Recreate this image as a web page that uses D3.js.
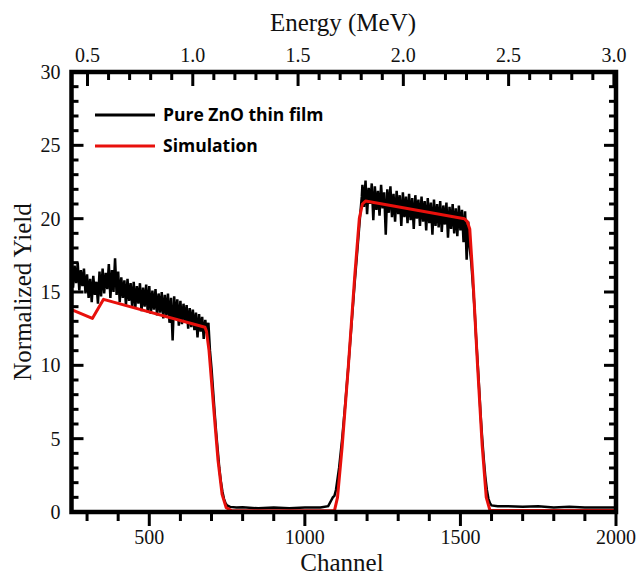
<!DOCTYPE html>
<html>
<head>
<meta charset="utf-8">
<script src="https://cdn.jsdelivr.net/npm/d3@7"></script>
<style>
  body { margin: 0; background: #fff; }
  svg { display: block; }
</style>
</head>
<body>
<div id="chart"></div>
<script>
const width = 639, height = 576;
const margin = {left: 71.5, right: 23, top: 72, bottom: 64};

// measured spectrum, noisy parts sampled every 5 channels
const filmLeftStart = 250;
const filmLeft = [
    17.2, 15.3, 16.8, 15.6, 17.0, 15.1, 16.5, 15.4, 16.6, 14.9,
    16.2, 14.6, 15.9, 14.3, 16.1, 14.8, 15.7, 14.2, 16.4, 14.7,
    16.6, 14.9, 16.3, 15.2, 16.9, 14.6, 16.5, 15.0, 17.3, 14.8,
    16.4, 14.3, 16.0, 14.6, 15.8, 14.1, 15.9, 14.4, 15.6, 14.0,
    15.7, 13.9, 15.4, 14.2, 15.6, 13.7, 15.3, 14.0, 15.5, 13.6,
    15.4, 13.5, 15.1, 13.8, 15.2, 13.4, 14.9, 13.6, 15.0, 13.2,
    14.8, 13.4, 14.9, 12.9, 14.6, 11.7, 14.7, 13.1, 14.5, 12.7,
    14.4, 12.8, 14.2, 13.0, 14.1, 12.5, 13.9, 12.6, 13.8, 12.4,
    13.6, 11.9, 13.5, 12.3, 13.3, 11.8, 13.1, 12.2, 12.9];
const filmGap = [[695, 11.0], [700, 9.8], [705, 8.3],
    [710, 6.8], [715, 5.4], [720, 4.2], [725, 3.0], [730, 2.1], [735, 1.4],
    [740, 0.9], [745, 0.6], [750, 0.45], [760, 0.35], [780, 0.3], [800, 0.32],
    [850, 0.25], [900, 0.3], [950, 0.25], [1000, 0.3], [1050, 0.3], [1075, 0.4],
    [1085, 0.8], [1090, 1.0], [1095, 1.1], [1100, 1.5], [1110, 3.0], [1120, 5.0],
    [1130, 7.4], [1140, 10.0], [1150, 12.8], [1160, 15.6], [1170, 18.2],
    [1178, 20.3], [1183, 21.5]];
const filmPeakStart = 1185;
const filmPeak = [
    22.3, 20.8, 22.6, 20.3, 22.1, 21.0, 22.4, 19.9, 22.2, 20.6,
    21.9, 20.2, 22.3, 20.7, 21.8, 18.9, 22.0, 20.4, 22.2, 20.1,
    21.7, 19.8, 21.9, 20.3, 21.6, 19.5, 21.8, 20.1, 21.5, 19.7,
    21.7, 19.9, 21.4, 19.3, 21.6, 20.0, 21.3, 19.5, 21.5, 19.8,
    21.2, 19.2, 21.4, 19.7, 21.1, 18.9, 21.3, 19.5, 21.0, 19.4,
    21.2, 19.1, 20.9, 19.6, 21.1, 18.7, 20.8, 19.3, 21.0, 19.0,
    20.7, 18.8, 20.9, 19.2, 20.6, 18.4, 20.5, 17.2, 19.8, 18.0];
const filmTail = [[1535, 17.0], [1540, 15.5], [1545, 14.0], [1550, 12.0],
    [1555, 10.3], [1560, 8.5], [1565, 6.6], [1570, 5.0], [1575, 3.6],
    [1580, 2.4], [1585, 1.5], [1590, 0.9], [1595, 0.6], [1600, 0.45],
    [1620, 0.4], [1650, 0.4], [1700, 0.35], [1750, 0.4], [1800, 0.3],
    [1850, 0.35], [1900, 0.3], [1950, 0.3], [2000, 0.3]];

const simChannel = [250, 317, 353, 679, 684, 692, 705, 721, 734, 747, 766,
    1095, 1105, 1120, 1140, 1160, 1175, 1185, 1195, 1513, 1522, 1530, 1540,
    1555, 1570, 1583, 1595, 2000];
const simYield = [13.8, 13.2, 14.5, 12.6, 12.3, 11.0, 7.6, 3.5, 1.2, 0.3, 0.08,
    0.08, 1.0, 4.5, 10.0, 16.0, 20.0, 21.0, 21.2, 20.0, 19.8, 19.3, 16.0,
    10.0, 4.5, 1.0, 0.1, 0.1];

const channelTicks = [500, 1000, 1500, 2000];
const channelMinor = [300, 400, 600, 700, 800, 900, 1100, 1200, 1300, 1400, 1600, 1700, 1800, 1900];
const energyTicks = [0.5, 1.0, 1.5, 2.0, 2.5, 3.0];
const energyMinor = [0.6, 0.7, 0.8, 0.9, 1.1, 1.2, 1.3, 1.4, 1.6, 1.7, 1.8, 1.9,
    2.1, 2.2, 2.3, 2.4, 2.6, 2.7, 2.8, 2.9];
const yieldTicks = [0, 5, 10, 15, 20, 25, 30];
const yieldMinor = d3.range(1, 30).filter(v => v % 5);

const film = [
    ...filmLeft.map((v, i) => [filmLeftStart + 5 * i, v]),
    ...filmGap,
    ...filmPeak.map((v, i) => [filmPeakStart + 5 * i, v]),
    ...filmTail
];
const sim = simChannel.map((c, i) => [c, simYield[i]]);

const x = d3.scaleLinear().domain([250, 2000]).range([margin.left, width - margin.right]);
const xE = d3.scaleLinear().domain([0.424, 3.01]).range([margin.left, width - margin.right]);
const y = d3.scaleLinear().domain([0, 30]).range([height - margin.bottom, margin.top]);

const svg = d3.select("#chart").append("svg")
    .attr("width", width).attr("height", height);

const line = d3.line().x(d => x(d[0])).y(d => y(d[1]));

svg.append("path").datum(film)
    .attr("fill", "none").attr("stroke", "#000")
    .attr("stroke-width", 2.5).attr("stroke-linejoin", "miter")
    .attr("d", line);

svg.append("path").datum(sim)
    .attr("fill", "none").attr("stroke", "#e8100c")
    .attr("stroke-width", 3).attr("stroke-linejoin", "round")
    .attr("d", line);

// ticks, drawn by hand so they can point inward / outward like the original
const serif = "'Liberation Serif', 'Times New Roman', serif";
const xa = x.range()[0], xb = x.range()[1], ya = y.range()[0], yb = y.range()[1];

function tickMarks(data, pos, len, vertical, base) {
    svg.append("g").selectAll("line").data(data).join("line")
        .attr("x1", d => vertical ? pos(d) : base)
        .attr("x2", d => vertical ? pos(d) : base + len)
        .attr("y1", d => vertical ? base : pos(d))
        .attr("y2", d => vertical ? base + len : pos(d))
        .attr("stroke", "#000").attr("stroke-width", 3);
}
tickMarks(channelTicks, x, 14, true, ya);
tickMarks(channelMinor, x, 9, true, ya);
tickMarks(energyTicks, xE, 14, true, yb);
tickMarks(energyMinor, xE, 8, true, yb);
tickMarks(yieldTicks, y, 12, false, xa);
tickMarks(yieldMinor, y, 7, false, xa);
tickMarks(yieldTicks, y, -12, false, xb);
tickMarks(yieldMinor, y, -7, false, xb);

svg.append("rect")
    .attr("x", xa).attr("y", yb)
    .attr("width", xb - xa).attr("height", ya - yb)
    .attr("fill", "none").attr("stroke", "#000").attr("stroke-width", 4.5);

const labelStyle = s => s.style("font-family", serif).style("font-size", "20px").attr("fill", "#111");
svg.append("g").selectAll("text").data(channelTicks).join("text")
    .attr("x", d => x(d)).attr("y", ya + 32).attr("text-anchor", "middle")
    .call(labelStyle).text(d => d);
svg.append("g").selectAll("text").data(energyTicks).join("text")
    .attr("x", d => xE(d)).attr("y", yb - 10).attr("text-anchor", "middle")
    .call(labelStyle).text(d => d3.format(".1f")(d));
svg.append("g").selectAll("text").data(yieldTicks).join("text")
    .attr("x", xa - 11).attr("y", d => y(d) + 7).attr("text-anchor", "end")
    .call(labelStyle).text(d => d);

const titleStyle = s => s.style("font-family", serif).style("font-size", "25px").attr("fill", "#111");
svg.append("text").attr("x", 343).attr("y", 31).attr("text-anchor", "middle")
    .call(titleStyle).text("Energy (MeV)");
svg.append("text").attr("x", 342).attr("y", 571).attr("text-anchor", "middle")
    .call(titleStyle).text("Channel");
svg.append("text").attr("transform", "translate(31,292)rotate(-90)").attr("text-anchor", "middle")
    .call(titleStyle).text("Normalized Yield");

// legend
const legendItems = [
    {label: "Pure ZnO thin film", color: "#000", width: 3},
    {label: "Simulation", color: "#e8100c", width: 3.2}
];
const legend = svg.append("g").selectAll("g").data(legendItems).join("g")
    .attr("transform", (d, i) => `translate(95,${115 + i * 31})`);
legend.append("line").attr("x1", 0).attr("x2", 60)
    .attr("stroke", d => d.color).attr("stroke-width", d => d.width);
legend.append("text").attr("x", 68).attr("y", 6)
    .style("font-family", "'Open Sans', sans-serif").style("font-weight", "bold")
    .style("font-size", "17.5px").attr("fill", "#000")
    .text(d => d.label);
</script>
</body>
</html>
